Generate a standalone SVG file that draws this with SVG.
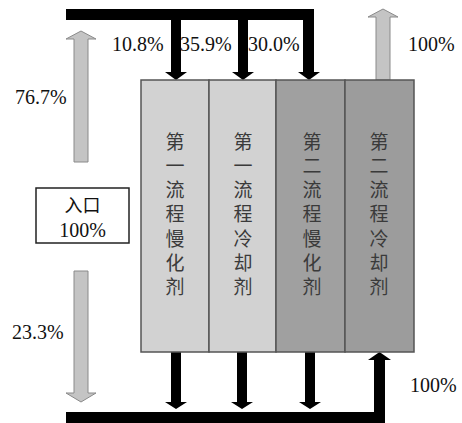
<svg xmlns="http://www.w3.org/2000/svg" width="462" height="423" viewBox="0 0 462 423">
<style>
.lbl{font-family:"Liberation Serif","Times New Roman",serif;font-size:20px;fill:#111}
.vt{font-family:"Noto Sans CJK SC","Noto Sans CJK JP",sans-serif;font-size:19px;fill:#3a3a3a;writing-mode:vertical-rl;text-orientation:upright;letter-spacing:5.2px}
.blk{fill:#000}
.gar{fill:#c4c4c4;stroke:#8a8a8a;stroke-width:1}
.box{stroke:#555;stroke-width:1.5}
</style>
<rect width="462" height="423" fill="#fff"/>
<g id="connectors">
  <path class="blk" d="M66,9 H314 V72 H320 L309,80 L298,72 H303 V20 H248 V72 H254 L243,80 L232,72 H238 V20 H181 V72 H187 L176,80 L165,72 H171 V20 H66 Z"/>
  <path class="blk" d="M66,412 H374 V360 H368 L379.5,352 L391,360 H385 V423 H66 Z"/>
  <path class="blk" d="M171,352 H181 V402 H187 L176,409 L165,402 H171 Z"/>
  <path class="blk" d="M237,352 H247 V402 H253 L242,409 L231,402 H237 Z"/>
  <path class="blk" d="M305,352 H315 V402 H321 L310,409 L299,402 H305 Z"/>
  <path class="gar" d="M74,162 V39 H66 L81,31 L96,39 H88 V162 Z"/>
  <path class="gar" d="M74,271 V393 H66 L81,402 L96,393 H88 V271 Z"/>
  <path class="gar" d="M376,80 V17 H368 L383,9 L398,17 H390 V80 Z"/>
</g>
<g id="box1"><rect class="box" x="141" y="80" width="68" height="272" fill="#d2d2d2"/>
  <text class="vt" x="175" y="132">第一流程慢化剂</text></g>
<g id="box2"><rect class="box" x="209" y="80" width="67" height="272" fill="#d2d2d2"/>
  <text class="vt" x="243" y="132">第一流程冷却剂</text></g>
<g id="box3"><rect class="box" x="276" y="80" width="69" height="272" fill="#a0a0a0"/>
  <text class="vt" x="312" y="132">第二流程慢化剂</text></g>
<g id="box4"><rect class="box" x="345" y="80" width="69" height="272" fill="#9c9c9c"/>
  <text class="vt" x="379" y="132">第二流程冷却剂</text></g>
<g id="inlet"><rect x="36" y="188" width="93" height="55" fill="#fff" stroke="#222" stroke-width="1.5"/>
  <text class="lbl" x="82.5" y="212" text-anchor="middle" style="font-family:'Noto Sans CJK SC',sans-serif;font-size:18px">入口</text>
  <text class="lbl" x="82.5" y="237" text-anchor="middle">100%</text></g>
<g id="labels">
  <text class="lbl" x="112" y="51">10.8%</text>
  <text class="lbl" x="180" y="51">35.9%</text>
  <text class="lbl" x="248" y="51">30.0%</text>
  <text class="lbl" x="408" y="51">100%</text>
  <text class="lbl" x="15" y="104">76.7%</text>
  <text class="lbl" x="12" y="339">23.3%</text>
  <text class="lbl" x="410" y="392">100%</text>
</g>
</svg>
